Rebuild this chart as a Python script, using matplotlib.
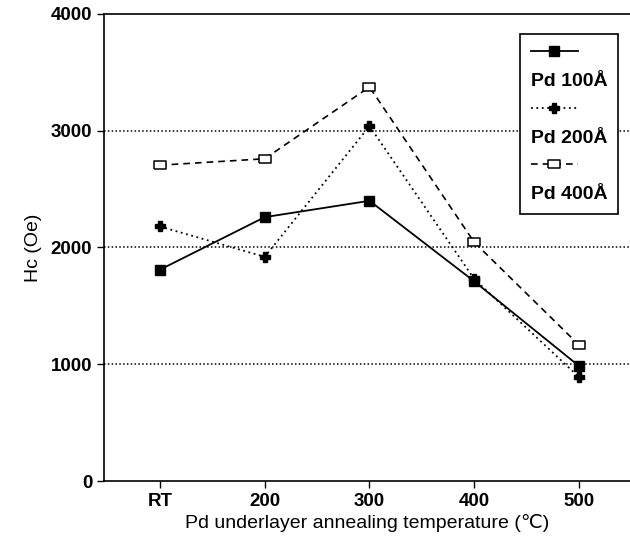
import matplotlib
matplotlib.use('Agg')
import matplotlib.pyplot as plt
from matplotlib.lines import Line2D

plt.rcParams['font.family'] = ['Liberation Sans', 'DejaVu Sans']

temps = ['RT', '200', '300', '400', '500']
hc_pd100 = [1810, 2260, 2400, 1710, 985]
hc_pd200 = [2180, 1920, 3040, 1730, 890]
hc_pd400 = [2705, 2760, 3375, 2045, 1165]

# flat open rectangle like the scanned original
rect = [(-1, -0.7), (1, -0.7), (1, 0.7), (-1, 0.7), (-1, -0.7)]

fig = plt.figure(figsize=(6.3, 5.36), dpi=100)
ax = fig.add_axes([0.165, 0.1026, 0.835, 0.8713])

x = list(range(len(temps)))
l1, = ax.plot(x, hc_pd100, color='black', lw=1.3, ls='-',
              marker='s', ms=7, mfc='black', mec='black')
l2, = ax.plot(x, hc_pd200, color='black', lw=1.3, ls=(0, (1, 2)),
              marker='P', ms=6.5, mfc='black', mec='black')
l3, = ax.plot(x, hc_pd400, color='black', lw=1.2, ls=(0, (4, 3)),
              marker=rect, ms=8, mfc='white', mec='black', mew=1.1)

for yv in [1000, 2000, 3000]:
    ax.axhline(yv, color='black', lw=1.1, ls=(0, (1, 1.5)), zorder=0)

ax.set_xlim(-0.535, 4.487)
ax.set_ylim(0, 4000)
ax.set_xticks(x)
ax.set_xticklabels(temps)
ax.set_yticks([0, 1000, 2000, 3000, 4000])
ax.tick_params(direction='out', length=5, width=1, labelsize=13.5)
for lab in ax.get_xticklabels() + ax.get_yticklabels():
    lab.set_fontweight('bold')
ax.spines['right'].set_visible(False)
for s in ax.spines.values():
    s.set_linewidth(1.2)

ax.set_xlabel('Pd underlayer annealing temperature (\u2103)', fontsize=14, labelpad=3)
ax.set_ylabel('Hc (Oe)', fontsize=14, labelpad=6)

blank = Line2D([], [], color='none')
leg = ax.legend([l1, blank, l2, blank, l3, blank],
                ['', 'Pd 100\u00c5', '', 'Pd 200\u00c5', '', 'Pd 400\u00c5'],
                loc='upper right', bbox_to_anchor=(0.978, 0.958), borderaxespad=0,
                handlelength=2.4, handletextpad=-2.4, labelspacing=0.55,
                fancybox=False, edgecolor='black', framealpha=1,
                prop={'size': 14, 'weight': 'bold'}, borderpad=0.55)
leg.get_frame().set_linewidth(1.2)

fig.savefig('out.png', dpi=100)
